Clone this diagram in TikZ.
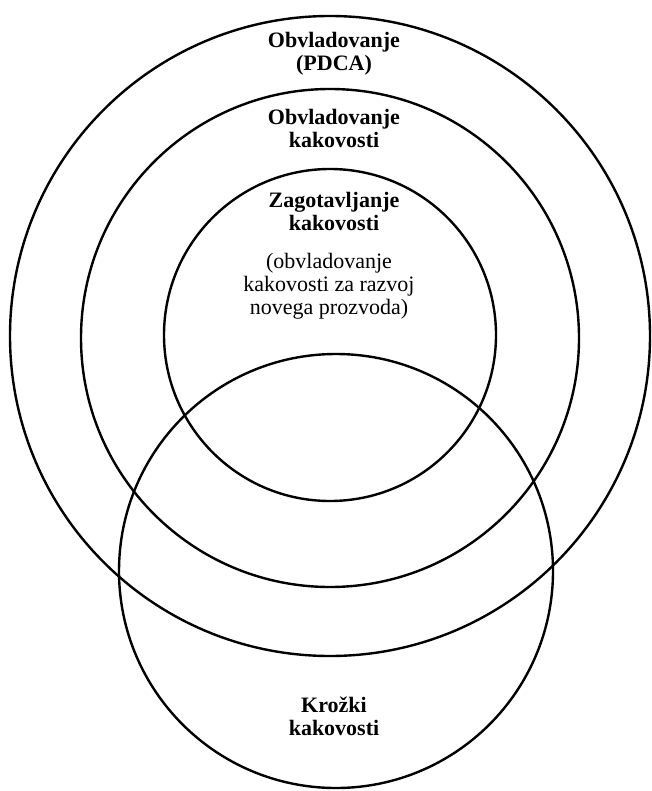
\documentclass[tikz,border=0pt]{standalone}
\usepackage{fontspec}
\setmainfont{Liberation Serif}
\usetikzlibrary{positioning}

\tikzset{
  ring/.style={draw, circle, line width=1.2pt, inner sep=0pt},
  heading/.style={font=\bfseries\fontsize{11}{11.5}\selectfont, align=center, inner sep=1pt},
  remark/.style={font=\fontsize{11}{11.5}\selectfont, align=center, inner sep=1pt},
}

\begin{document}
\begin{tikzpicture}[x=0.5pt, y=-0.5pt]
  \useasboundingbox (0,0) rectangle (652,791);

  % nested rings
  \node[ring, minimum size=320pt] (pdca) at (330,336) {};
  \node[ring, minimum size=249pt] (obvladovanje) at (330,338) {};
  \node[ring, minimum size=166pt] (zagotavljanje) at (330,335) {};
  % overlapping ring
  \node[ring, minimum size=217pt] (krozki) at (336,571) {};

  % labels
  \node[heading] (pdca-label) at (334,54) {Obvladovanje\\(PDCA)};
  \node[heading] (obv-label) at (334,128) {Obvladovanje\\kakovosti};
  \node[heading] (zag-label) at (334,211) {Zagotavljanje\\kakovosti};
  \node[remark] (razvoj-label) at (329,286) {(obvladovanje\\kakovosti za razvoj\\novega prozvoda)};
  \node[heading] (krozki-label) at (334,716) {Krožki\\kakovosti};
\end{tikzpicture}
\end{document}
